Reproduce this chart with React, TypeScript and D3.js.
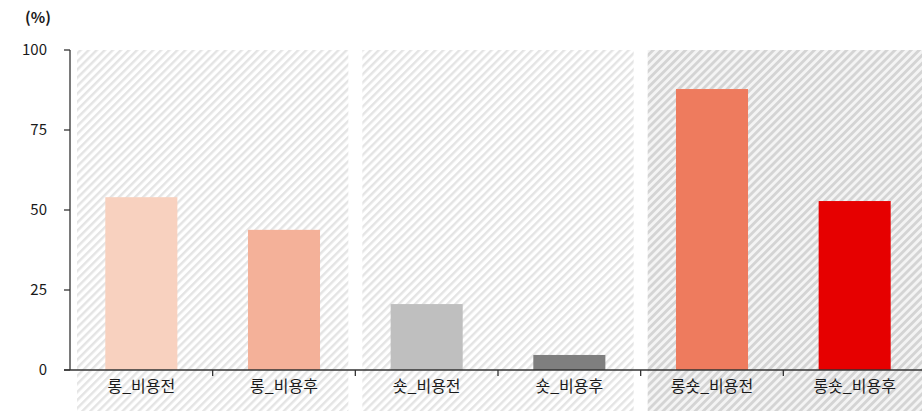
import React from "react";
import * as d3 from "d3";

const categories = ["롱_비용전", "롱_비용후", "숏_비용전", "숏_비용후", "롱숏_비용전", "롱숏_비용후"];
const values = [54, 43.8, 20.6, 4.7, 87.8, 52.8];
const colors = ["#F8D1BF", "#F4B199", "#BFBFBF", "#7F7F7F", "#EE7B5E", "#E60000"];
const yTicks = [0, 25, 50, 75, 100];
const panels = [
  { from: 0, to: 1, dark: false },
  { from: 2, to: 3, dark: false },
  { from: 4, to: 5, dark: true },
];

const W = 922, H = 411;
const left = 70, right = 926, top = 50, bottom = 370;

export default function App() {
  const x = d3.scaleBand<string>().domain(categories).range([left, right]).paddingInner(0).paddingOuter(0);
  const y = d3.scaleLinear().domain([0, 100]).range([bottom, top]);
  const bw = x.bandwidth();
  const barW = bw * 0.505;
  const font = "'Noto Sans CJK KR', 'Noto Sans', sans-serif";
  return (
    <svg width={W} height={H} style={{ position: "absolute", left: 0, top: 0 }} fontFamily={font}>
      <defs>
        <pattern id="hl" patternUnits="userSpaceOnUse" width={5.7} height={5.7} patternTransform="rotate(45)">
          <rect width={5.7} height={5.7} fill="#ffffff" />
          <rect width={2.4} height={5.7} fill="#e4e4e4" />
        </pattern>
        <pattern id="hd" patternUnits="userSpaceOnUse" width={5.7} height={5.7} patternTransform="rotate(45)">
          <rect width={5.7} height={5.7} fill="#f4f4f4" />
          <rect width={2.8} height={5.7} fill="#d4d4d4" />
        </pattern>
      </defs>
      <rect width={W} height={H} fill="#fff" />
      {panels.map((p, i) => {
        const x0 = x(categories[p.from])! + 7;
        const x1 = i === panels.length - 1 ? W : x(categories[p.to])! + bw - 7;
        return <rect key={i} x={x0} y={top} width={x1 - x0} height={H - top} fill={p.dark ? "url(#hd)" : "url(#hl)"} />;
      })}
      {categories.map((c, i) => (
        <rect key={c} x={x(c)! + (bw - barW) / 2} y={y(values[i])} width={barW} height={y(0) - y(values[i])} fill={colors[i]} />
      ))}
      <line x1={left} x2={left} y1={top} y2={bottom} stroke="#333" strokeWidth={1.3} />
      {yTicks.map((t) => (
        <g key={t}>
          <line x1={left - 6} x2={left} y1={y(t)} y2={y(t)} stroke="#333" strokeWidth={1.3} />
          <text x={47} y={y(t)} dy="0.35em" textAnchor="end" fontSize={15} fill="#1a1a1a">{t}</text>
        </g>
      ))}
      <line x1={left - 6} x2={W} y1={bottom} y2={bottom} stroke="#333" strokeWidth={1.3} />
      {categories.slice(1).map((c) => (
        <line key={c} x1={x(c)!} x2={x(c)!} y1={bottom} y2={bottom + 6} stroke="#333" strokeWidth={1.3} />
      ))}
      {categories.map((c) => (
        <text key={c} x={x(c)! + bw / 2} y={392} textAnchor="middle" fontSize={16} fill="#1a1a1a">{c}</text>
      ))}
      <text x={38} y={23} textAnchor="middle" fontSize={15} fontWeight="bold" fill="#1a1a1a">(%)</text>
    </svg>
  );
}
